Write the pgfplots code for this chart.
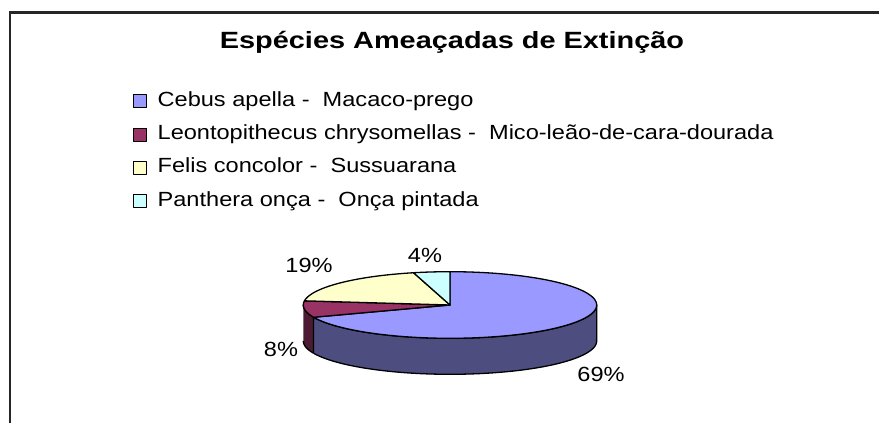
\documentclass[border=0pt]{standalone}
\usepackage{pgfplots}
\pgfplotsset{compat=1.18}
\usepackage{fontspec}
\setmainfont{Liberation Sans}
\newfontfamily\legfont[FakeStretch=1.15]{Liberation Sans}
\newfontfamily\titfont[FakeStretch=1.23]{Liberation Sans}
\definecolor{cA}{HTML}{9999FF}
\definecolor{cB}{HTML}{993366}
\definecolor{cC}{HTML}{FFFFCC}
\definecolor{cD}{HTML}{CCFFFF}
\definecolor{cAd}{HTML}{4D4D80}
\definecolor{cBd}{HTML}{4D1A33}
% data (percent)
\def\vA{69}\def\vB{8}\def\vC{19}\def\vD{4}
\pgfmathsetmacro\aA{90}
\pgfmathsetmacro\aB{\aA-3.6*\vA}
\pgfmathsetmacro\aC{\aB-3.6*\vB}
\pgfmathsetmacro\aD{\aC-3.6*\vC}
\pgfmathsetmacro\aE{\aD-3.6*\vD}
\def\cx{450}\def\cy{118}\def\rx{146.7}\def\ry{33.3}\def\dep{36}
\newcommand\labfont{\legfont\fontsize{20.5bp}{24bp}\selectfont}
\begin{document}
\begin{tikzpicture}
\begin{axis}[
  at={(0,0)}, anchor=origin,
  scale only axis, width=879bp, height=423bp,
  xmin=0, xmax=879, ymin=0, ymax=423,
  enlargelimits=false, hide axis, clip=false,
  legend cell align=left,
  legend image code/.code={\path[draw=none, fill=none] (0bp,-6.5bp) rectangle (24bp,6.5bp); \draw[#1, line width=0.9bp] (0bp,-6.5bp) rectangle (13bp,6.5bp);},
  legend style={at={(axis cs:133,331)}, anchor=north west, draw=none, fill=none,
    inner sep=0pt, row sep=15.3bp,
    font=\labfont,
    nodes={inner sep=0pt, text height=14bp, text depth=4bp}},
]
% frame
\draw[line width=2.5bp, black!85] (axis cs:10,0) -- (axis cs:10,410.5) -- (axis cs:879,410.5);
% side faces
\addplot[forget plot, draw=black, line width=1.3bp, fill=cAd, line join=round, domain=0:2, samples=201, variable=\t]
 ({\cx+\rx*cos((\t<=1) ? ((\aB)+\t*(0-(\aB))) : (0-(\t-1)*(0-(\aB))))},
  {\cy+\ry*sin((\t<=1) ? ((\aB)+\t*(0-(\aB))) : (0-(\t-1)*(0-(\aB)))) - ((\t>1) ? \dep : 0)});
\addplot[forget plot, draw=black, line width=1.3bp, fill=cBd, line join=round, domain=0:2, samples=201, variable=\t]
 ({\cx+\rx*cos((\t<=1) ? (-180+\t*((\aB)+180)) : ((\aB)-(\t-1)*((\aB)+180)))},
  {\cy+\ry*sin((\t<=1) ? (-180+\t*((\aB)+180)) : ((\aB)-(\t-1)*((\aB)+180))) - ((\t>1) ? \dep : 0)});
% top faces
\addplot[draw=black, line width=1.3bp, fill=cA, line join=round, domain=\aB:\aA, samples=120, variable=\t]
 ({\cx+\rx*cos(\t)},{\cy+\ry*sin(\t)}) -- (axis cs:\cx,\cy) -- cycle;
\addlegendentry{Cebus apella -\ \ Macaco-prego}
\addplot[draw=black, line width=1.3bp, fill=cB, line join=round, domain=\aC:\aB, samples=30, variable=\t]
 ({\cx+\rx*cos(\t)},{\cy+\ry*sin(\t)}) -- (axis cs:\cx,\cy) -- cycle;
\addlegendentry{Leontopithecus chrysomellas -\ \ Mico-leão-de-cara-dourada}
\addplot[draw=black, line width=1.3bp, fill=cC, line join=round, domain=\aD:\aC, samples=50, variable=\t]
 ({\cx+\rx*cos(\t)},{\cy+\ry*sin(\t)}) -- (axis cs:\cx,\cy) -- cycle;
\addlegendentry{Felis concolor -\ \ Sussuarana}
\addplot[draw=black, line width=1.3bp, fill=cD, line join=round, domain=\aE:\aD, samples=20, variable=\t]
 ({\cx+\rx*cos(\t)},{\cy+\ry*sin(\t)}) -- (axis cs:\cx,\cy) -- cycle;
\addlegendentry{Panthera onça -\ \ Onça pintada}
% title and labels
\node[anchor=base, font=\titfont\bfseries\fontsize{23.5bp}{28bp}\selectfont] at (axis cs:452,374) {Espécies Ameaçadas de Extinção};
\node[font=\labfont] at (axis cs:601,49) {69\%};
\node[font=\labfont] at (axis cs:281,74) {8\%};
\node[font=\labfont] at (axis cs:309,157.5) {19\%};
\node[font=\labfont] at (axis cs:425,168) {4\%};
\end{axis}
\pgfresetboundingbox
\path (0,0) rectangle (879bp,423bp);
\end{tikzpicture}
\end{document}
